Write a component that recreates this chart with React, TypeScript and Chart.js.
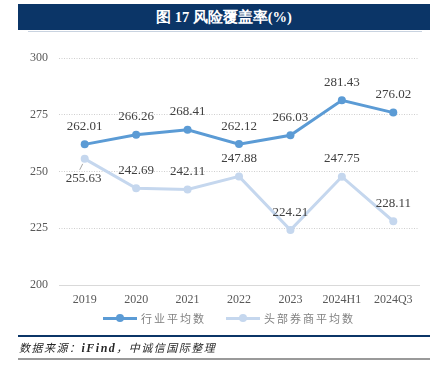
import React, { useEffect, useRef } from "react";
import { Chart, registerables } from "chart.js";

Chart.register(...registerables);

const categories = ["2019", "2020", "2021", "2022", "2023", "2024H1", "2024Q3"];
const industryAvg = [262.01, 266.26, 268.41, 262.12, 266.03, 281.43, 276.02];
const topBrokersAvg = [255.63, 242.69, 242.11, 247.88, 224.21, 247.75, 228.11];
const yTicks = [200, 225, 250, 275, 300];

const seriesNames = ["行业平均数", "头部券商平均数"];
const colors = ["#5b9bd5", "#c5d7ee"];

const SERIF = "'Times New Roman', 'Liberation Serif', serif";

const labelPlugin = {
  id: "pointLabels",
  afterDatasetsDraw(chart: any) {
    const ctx = chart.ctx;
    ctx.save();
    ctx.font = `13px ${SERIF}`;
    ctx.fillStyle = "#404040";
    ctx.textAlign = "center";
    ctx.textBaseline = "middle";
    chart.data.datasets.forEach((ds: any, di: number) => {
      const meta = chart.getDatasetMeta(di);
      meta.data.forEach((pt: any, i: number) => {
        const v = ds.data[i];
        const text = v.toFixed(2);
        if (di === 1 && i === 0) {
          ctx.strokeStyle = "#a6a6a6";
          ctx.lineWidth = 1;
          ctx.beginPath();
          ctx.moveTo(pt.x - 2, pt.y + 5);
          ctx.lineTo(pt.x - 5, pt.y + 11);
          ctx.stroke();
          ctx.fillText(text, pt.x - 1, pt.y + 20);
        } else {
          ctx.fillText(text, pt.x, pt.y - 18);
        }
      });
    });
    ctx.restore();
  },
};

export default function App() {
  const canvasRef = useRef<HTMLCanvasElement | null>(null);

  useEffect(() => {
    const canvas = canvasRef.current;
    if (!canvas) return;
    const chart = new Chart(canvas, {
      type: "line",
      data: {
        labels: categories,
        datasets: [
          {
            label: seriesNames[0],
            data: industryAvg,
            borderColor: colors[0],
            backgroundColor: colors[0],
            borderWidth: 3,
            pointRadius: 4,
            pointBackgroundColor: colors[0],
            pointBorderWidth: 0,
            tension: 0,
          },
          {
            label: seriesNames[1],
            data: topBrokersAvg,
            borderColor: colors[1],
            backgroundColor: colors[1],
            borderWidth: 3,
            pointRadius: 4,
            pointBackgroundColor: colors[1],
            pointBorderWidth: 0,
            tension: 0,
          },
        ],
      },
      options: {
        animation: false,
        responsive: false,
        maintainAspectRatio: false,
        layout: { padding: { left: 0, right: 17, top: 14, bottom: 0 } },
        plugins: {
          legend: { display: false },
          tooltip: { enabled: false },
        },
        scales: {
          x: {
            offset: true,
            grid: { display: false, drawTicks: false },
            border: { display: true, color: "#d9d9d9", width: 1 },
            ticks: {
              color: "#595959",
              font: { family: SERIF, size: 12 },
              padding: 8,
              maxRotation: 0,
              autoSkip: false,
            },
            afterFit(scale: any) {
              scale.height = 25;
            },
          },
          y: {
            min: 200,
            max: 300,
            afterBuildTicks(scale: any) {
              scale.ticks = yTicks.map((v) => ({ value: v }));
            },
            grid: {
              drawTicks: false,
              color: (c: any) => (c.tick && c.tick.value === 200 ? "rgba(0,0,0,0)" : "#cfcfcf"),
              lineWidth: 1,
            },
            border: { display: false, dash: [1, 1.5] },
            ticks: {
              color: "#595959",
              font: { family: SERIF, size: 12 },
              padding: 11,
            },
            afterFit(scale: any) {
              scale.width = 59;
            },
          },
        },
      },
      plugins: [labelPlugin],
    });
    return () => chart.destroy();
  }, []);

  const legendItem = (name: string, color: string) => (
    <div style={{ display: "flex", alignItems: "center", marginRight: 20 }}>
      <div style={{ position: "relative", width: 34, height: 10, marginRight: 4 }}>
        <div
          style={{
            position: "absolute",
            left: 0,
            right: 0,
            top: 3.5,
            height: 3,
            background: color,
          }}
        />
        <div
          style={{
            position: "absolute",
            left: 13,
            top: 1,
            width: 8,
            height: 8,
            borderRadius: 4,
            background: color,
          }}
        />
      </div>
      <span
        style={{
          fontFamily: "'Noto Sans CJK SC', sans-serif",
          fontSize: 11,
          letterSpacing: 2,
          color: "#808080",
        }}
      >
        {name}
      </span>
    </div>
  );

  return (
    <div
      style={{
        position: "fixed",
        left: 0,
        top: 0,
        width: 436,
        height: 376,
        background: "#ffffff",
        overflow: "hidden",
      }}
    >
      <div
        style={{
          position: "absolute",
          left: 18,
          top: 4,
          width: 412,
          height: 26,
          background: "#0b3567",
          color: "#ffffff",
          fontFamily: SERIF,
          fontWeight: "bold",
          fontSize: 14.5,
          display: "flex",
          alignItems: "center",
          justifyContent: "center",
        }}
      >
        图 17 风险覆盖率(%)
      </div>
      <div
        style={{
          position: "absolute",
          left: 28,
          top: 31,
          width: 394,
          height: 1,
          background: "#c9d3e0",
        }}
      />
      <canvas
        ref={canvasRef}
        width={436}
        height={270}
        style={{ position: "absolute", left: 0, top: 40, width: 436, height: 270 }}
      />
      <div
        style={{
          position: "absolute",
          left: 0,
          width: 436,
          top: 309,
          height: 18,
          display: "flex",
          justifyContent: "center",
          paddingLeft: 42,
          boxSizing: "border-box",
        }}
      >
        {legendItem(seriesNames[0], colors[0])}
        {legendItem(seriesNames[1], colors[1])}
      </div>
      <div
        style={{
          position: "absolute",
          left: 18,
          top: 335,
          width: 412,
          height: 2,
          background: "#0b3567",
        }}
      />
      <div
        style={{
          position: "absolute",
          left: 19,
          top: 339,
          fontFamily: "'Noto Sans CJK SC', sans-serif",
          fontStyle: "italic",
          fontSize: 11,
          color: "#262626",
          letterSpacing: 1.5,
        }}
      >
        数据来源：<span style={{ fontFamily: SERIF, fontWeight: "bold", fontSize: 12 }}>iFind</span>，中诚信国际整理
      </div>
      <div
        style={{
          position: "absolute",
          left: 18,
          top: 358,
          width: 412,
          height: 2,
          background: "#9a9a9a",
        }}
      />
    </div>
  );
}
